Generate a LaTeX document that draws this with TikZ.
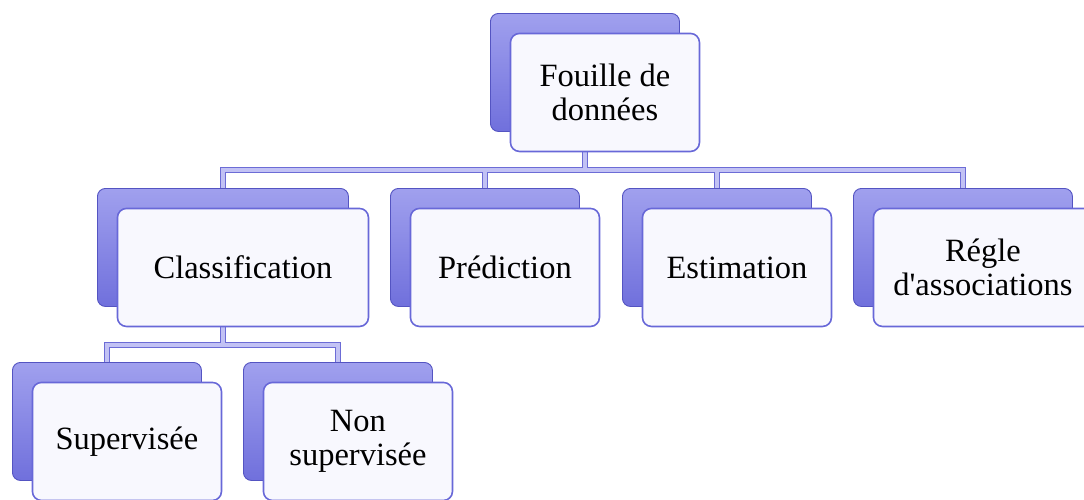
\documentclass[tikz,border=0pt]{standalone}
\usepackage{fontspec}
\setmainfont{Liberation Serif}[Ligatures=TeXOff]
\usetikzlibrary{backgrounds}

\definecolor{backtop}{RGB}{160,160,238}
\definecolor{backbot}{RGB}{112,112,220}
\definecolor{backline}{RGB}{84,84,194}
\definecolor{frontfill}{RGB}{248,248,254}
\definecolor{frontline}{RGB}{104,104,216}
\definecolor{connline}{RGB}{108,108,214}
\definecolor{connfill}{RGB}{194,194,244}

\tikzset{
  backbox/.style={draw=backline, line width=0.9pt, top color=backtop, bottom color=backbot,
    rounded corners=8pt, anchor=north west, minimum height=118pt, inner sep=0pt},
  frontbox/.style={draw=frontline, line width=1.6pt, fill=frontfill, rounded corners=9pt,
    minimum height=118pt, inner sep=0pt, align=center, font=\fontsize{32.5}{34}\selectfont},
  connector/.style={draw=connline, double=connfill, line width=1.2pt, double distance=3.4pt},
}

% a shaded card with a white card laid over it, shifted down and right
% #1 name, #2 x, #3 y (top left of the back card), #4 width, #5 text
\newcommand\stackedcard[5]{%
  \node[backbox, minimum width=#4pt] (#1B) at (#2,#3) {};
  \node[frontbox, minimum width=#4pt] (#1) at ([xshift=20pt,yshift=-20pt]#1B.center) {#5};
}

\begin{document}
\begin{tikzpicture}[x=1pt, y=-1pt]
  \useasboundingbox (0,0) rectangle (1084,499);
  \clip (0,0) rectangle (1084,499);

  % root
  \stackedcard{fouille}{490}{13}{189}{Fouille de\\données}
  % first level
  \stackedcard{classif}{97}{188}{251}{Classification}
  \stackedcard{predict}{390}{188}{189}{Prédiction}
  \stackedcard{estim}{622}{188}{189}{Estimation}
  \stackedcard{regle}{853}{188}{219}{Régle\\d'associations}
  % second level
  \stackedcard{superv}{12}{362}{189}{Supervisée}
  \stackedcard{nonsup}{243}{362}{189}{Non\\supervisée}

  \coordinate (busA) at (0,170);
  \coordinate (busB) at (0,345);

  \begin{scope}[on background layer]
    \fill[white] (0,0) rectangle (1084,499);
    \draw[connector]
      (fouilleB.south |- fouille.south) -- (fouilleB.south |- busA)
      (classifB.north) -- (classifB.north |- busA) -- (regleB.north |- busA) -- (regleB.north)
      (predictB.north) -- (predictB.north |- busA)
      (estimB.north) -- (estimB.north |- busA);
    \draw[connector]
      (classifB.south |- classif.south) -- (classifB.south |- busB)
      (supervB.north) -- (supervB.north |- busB) -- (nonsupB.north |- busB) -- (nonsupB.north);
  \end{scope}
\end{tikzpicture}
\end{document}
